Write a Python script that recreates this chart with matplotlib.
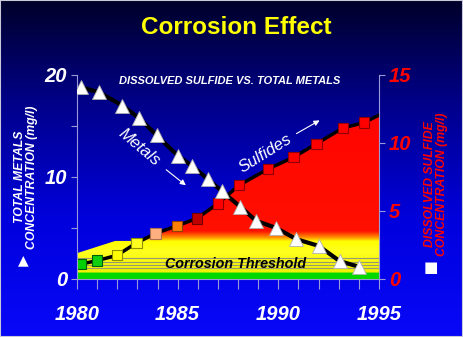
import numpy as np
import matplotlib
matplotlib.use("Agg")
from matplotlib import pyplot as plt
from matplotlib.colors import LinearSegmentedColormap
from matplotlib.patches import Polygon, Rectangle

plt.rcParams['font.family'] = ['Liberation Sans', 'DejaVu Sans']

# metals (left axis, mg/l)
metal_years = [1980.2, 1981.1, 1982.25, 1983.1, 1983.95, 1985.0, 1985.7, 1986.5,
               1987.2, 1988.1, 1988.9, 1989.9, 1990.9, 1992.0, 1993.05, 1994.0]
metals = [18.8, 18.3, 17.0, 15.75, 14.1, 12.1, 11.1, 9.8,
          8.6, 7.1, 5.7, 5.0, 3.9, 3.25, 1.75, 1.2]

# dissolved sulfide (right axis, mg/l); last point is where the line meets the axis
sulfide_years = [1980.2, 1981.0, 1982.0, 1982.95, 1983.9, 1984.95, 1985.95, 1987.0,
                 1988.05, 1989.5, 1990.75, 1991.9, 1993.2, 1994.25, 1995.0]
sulfide = [1.1, 1.35, 1.75, 2.65, 3.35, 3.9, 4.45, 5.55,
           6.9, 8.1, 8.95, 9.95, 11.1, 11.5, 12.05]
square_colors = ['#00d000', '#10d010', '#ffff00', '#ffff20', '#ffb080', '#ff8000',
                 '#c00000', '#ff0000', '#ff0000', '#ff0000', '#ff0000', '#ff0000',
                 '#ff0000', '#ff0000']
square_edges = ['#006000', '#006000', '#909000', '#909000', '#b07050', '#904000',
                '#700000', '#900000', '#900000', '#900000', '#900000', '#900000',
                '#900000', '#900000']

# corrosion threshold band outline (right axis units)
threshold_years = [1980.0, 1981.9, 1995.0]
threshold_top = [1.9, 2.8, 2.8]
threshold_lines = [0.79, 1.03, 1.28, 1.52]

W, H = 463, 337


def px(x, y):
    return x / W, 1 - y / H


fig = plt.figure(figsize=(W / 100, H / 100), dpi=100)

# background gradient
bg = fig.add_axes([0, 0, 1, 1], zorder=-10)
bg_cmap = LinearSegmentedColormap.from_list(
    'bg', [(0, '#00002a'), (0.3, '#000088'), (0.65, '#0000dd'), (1, '#0808f8')])
bg.imshow(np.linspace(0, 1, 256)[:, None], aspect='auto', cmap=bg_cmap,
          extent=[0, 1, 0, 1], origin='upper')
bg.axis('off')
fig.patches.append(Rectangle((0, 0), 1, 1, transform=fig.transFigure, fill=False,
                             edgecolor='#c8c8d8', lw=1.5))

l, b = px(77, 279)
r, t = px(379, 75)
ax = fig.add_axes([l, b, r - l, t - b])
ax.patch.set_visible(False)
ax2 = ax.twinx()
ax.set_zorder(2)
ax2.set_zorder(1)

ax.set_xlim(1980, 1995)
ax.set_ylim(0, 20)
ax2.set_ylim(0, 15)

# filled gradient under sulfide / threshold
xs = np.linspace(1980, 1995, 400)
upper = np.maximum(np.interp(xs, threshold_years, threshold_top),
                   np.interp(xs, sulfide_years, sulfide))
verts = [(1980, 0)] + list(zip(xs, upper)) + [(1995, 0)]
clip = Polygon(verts, closed=True, facecolor='none', edgecolor='none',
               transform=ax2.transData)
ax2.add_patch(clip)
fill_cmap = LinearSegmentedColormap.from_list('fill', [
    (0, '#00d800'), (0.42 / 15, '#00d800'), (0.45 / 15, '#f0f000'),
    (2.0 / 15, '#ffff20'), (2.75 / 15, '#ffff00'), (3.05 / 15, '#ff8c00'),
    (3.5 / 15, '#ff1000'), (1, '#ff0000')])
im = ax2.imshow(np.linspace(0, 1, 600)[:, None], aspect='auto', cmap=fill_cmap,
                extent=[1980, 1995, 0, 15], origin='lower', zorder=1)
im.set_clip_path(clip)
for v in threshold_lines:
    ax2.axhline(v, color='#9a9a70', lw=0.8, zorder=2)

ax2.plot(sulfide_years, sulfide, color='black', lw=2.5, zorder=3)
ax2.scatter(sulfide_years[:-1], sulfide[:-1], marker='s', s=55, c=square_colors,
            edgecolors=square_edges, linewidths=0.8, zorder=4)

ax.plot(metal_years, metals, color='black', lw=3, zorder=3)
ax.plot(metal_years, metals, linestyle='none', marker='^', ms=10.5,
        markerfacecolor='white', markeredgecolor='#b0b0b0', mew=0.6, zorder=4)

ax2.set_ylim(0, 15)
ax2.set_xlim(1980, 1995)

# axes styling
spine_c = '#9a9ad8'
for s in ['top', 'right']:
    ax.spines[s].set_visible(False)
for s in ['top', 'left', 'bottom']:
    ax2.spines[s].set_visible(False)
ax.spines['left'].set_color(spine_c)
ax.spines['bottom'].set_color(spine_c)
ax2.spines['right'].set_color(spine_c)

tick_font = dict(weight='bold', style='italic', size=14.5)
ax.set_xticks(np.arange(1980, 1996))
ax.set_xticklabels([str(y) if y % 5 == 0 else '' for y in range(1980, 1996)],
                   color='white', **tick_font)
ax.set_yticks([0, 5, 10, 15, 20])
ax.set_yticklabels(['0', '', '10', '', '20'], color='white', **tick_font)
ax2.set_yticks([0, 5, 10, 15])
ax2.set_yticklabels(['0', '5', '10', '15'], color='red', **tick_font)
ax.tick_params(axis='x', length=7.5, color=spine_c, pad=11)
ax.tick_params(axis='y', length=4, color=spine_c, pad=3)
ax2.tick_params(axis='y', length=4, color=spine_c, pad=3)

# texts
fig.text(*px(236, 27), 'Corrosion Effect', color='#ffff00', weight='bold',
         size=17.5, ha='center', va='center')
fig.text(*px(230, 81), 'DISSOLVED SULFIDE VS. TOTAL METALS', color='white',
         weight='bold', style='italic', size=8, ha='center', va='center')
fig.text(*px(26, 177), 'TOTAL METALS\nCONCENTRATION (mg/l)', color='white',
         weight='bold', style='italic', size=8.8, rotation=90, ha='center',
         va='center', linespacing=1.1)
fig.text(*px(436, 184), 'DISSOLVED SULFIDE\nCONCENTRATION (mg/l)', color='red',
         weight='bold', style='italic', size=8.8, rotation=90, ha='center',
         va='center', linespacing=1.1)
fig.text(*px(23, 260), '\u25B2', color='white', size=10, ha='center', va='center',
         family=['DejaVu Sans'])
fig.text(*px(431, 267), '\u25A0', color='white', size=11, ha='center', va='center',
         family=['DejaVu Sans'])
fig.text(*px(236, 264), 'Corrosion Threshold', color='black', weight='bold',
         style='italic', size=10.3, ha='center', va='center')
fig.text(*px(139, 147), 'Metals', color='white', style='italic', size=12,
         rotation=-40, ha='center', va='center')
fig.text(*px(265, 153), 'Sulfides', color='white', style='italic', size=12,
         rotation=32, ha='center', va='center')

arrow = dict(arrowstyle='-|>', color='white', lw=0.8, mutation_scale=8)
ax.annotate('', xy=px(188, 187), xytext=px(164, 168), xycoords='figure fraction',
            textcoords='figure fraction', arrowprops=arrow)
ax.annotate('', xy=px(322, 119), xytext=px(294, 135), xycoords='figure fraction',
            textcoords='figure fraction', arrowprops=arrow)

fig.savefig('out.png', dpi=100)
